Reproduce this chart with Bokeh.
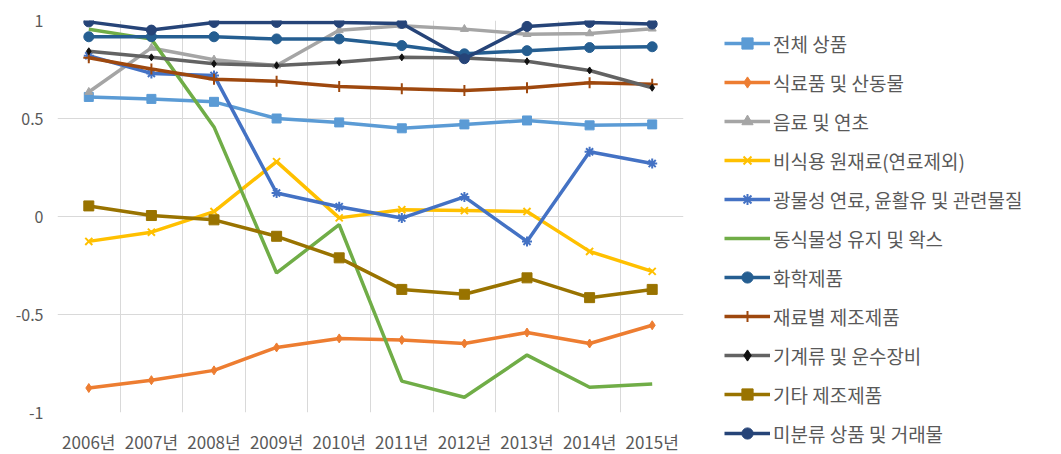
from bokeh.plotting import figure
from bokeh.models import Range1d, FixedTicker, Legend, LegendItem
from bokeh.embed import file_html
from bokeh.resources import INLINE

years = ["2006년", "2007년", "2008년", "2009년", "2010년",
         "2011년", "2012년", "2013년", "2014년", "2015년"]

total = [0.61, 0.60, 0.585, 0.50, 0.48, 0.45, 0.47, 0.49, 0.465, 0.47]
food = [-0.875, -0.835, -0.785, -0.668, -0.622, -0.63, -0.648, -0.592, -0.648, -0.555]
beverage = [0.635, 0.86, 0.80, 0.77, 0.95, 0.973, 0.956, 0.93, 0.934, 0.958]
nonfood = [-0.127, -0.08, 0.025, 0.28, -0.007, 0.035, 0.03, 0.025, -0.178, -0.28]
mineral = [0.82, 0.73, 0.72, 0.12, 0.05, -0.008, 0.10, -0.127, 0.33, 0.27]
oils = [0.955, 0.905, 0.457, -0.288, -0.042, -0.84, -0.922, -0.707, -0.871, -0.854]
chemical = [0.917, 0.917, 0.917, 0.906, 0.906, 0.872, 0.83, 0.846, 0.862, 0.866]
material = [0.81, 0.753, 0.70, 0.69, 0.663, 0.652, 0.643, 0.657, 0.683, 0.675]
machinery = [0.843, 0.812, 0.779, 0.77, 0.787, 0.812, 0.809, 0.792, 0.745, 0.657]
other = [0.054, 0.005, -0.017, -0.101, -0.211, -0.372, -0.397, -0.313, -0.414, -0.372]
unclassified = [0.993, 0.951, 0.99, 0.99, 0.99, 0.985, 0.805, 0.97, 0.99, 0.982]

y_ticks = [-1, -0.5, 0, 0.5, 1]
y_tick_labels = ["-1", "-0.5", "0", "0.5", "1"]

series = [
    ("전체 상품", total, "#5B9BD5", "square", 9, None),
    ("식료품 및 산동물", food, "#ED7D31", "diamond", 9, None),
    ("음료 및 연초", beverage, "#A5A5A5", "triangle", 8, None),
    ("비식용 원재료(연료제외)", nonfood, "#FFC000", "x", 10, None),
    ("광물성 연료, 윤활유 및 관련물질", mineral, "#4472C4", "asterisk", 10, None),
    ("동식물성 유지 및 왁스", oils, "#70AD47", None, 0, None),
    ("화학제품", chemical, "#255E91", "circle", 10, None),
    ("재료별 제조제품", material, "#9E480E", "cross", 11, None),
    ("기계류 및 운수장비", machinery, "#636363", "diamond", 7, "#111111"),
    ("기타 제조제품", other, "#997300", "square", 10, None),
    ("미분류 상품 및 거래물", unclassified, "#264478", "circle", 10, None),
]

FONT = "Noto Sans CJK KR"
TXT = "#595959"

xs = [i + 0.5 for i in range(len(years))]

p = figure(frame_width=626, frame_height=392,
           min_border_left=57, min_border_top=20, min_border_right=365,
           min_border_bottom=30,
           x_range=Range1d(0, len(years)), y_range=Range1d(-1, 1),
           output_backend="svg", toolbar_location=None)
p.outline_line_color = None
p.background_fill_color = "white"

# axes
p.xaxis.ticker = FixedTicker(ticks=xs)
p.xaxis.major_label_overrides = {x: lab for x, lab in zip(xs, years)}
p.yaxis.ticker = FixedTicker(ticks=y_ticks)
p.yaxis.major_label_overrides = {t: lab for t, lab in zip(y_ticks, y_tick_labels)}
for ax in (p.xaxis[0], p.yaxis[0]):
    ax.axis_line_color = None
    ax.major_tick_line_color = None
    ax.minor_tick_line_color = None
    ax.major_label_text_font = FONT
    ax.major_label_text_color = TXT
p.xaxis.major_label_text_font_size = "17px"
p.yaxis.major_label_text_font_size = "16px"
p.xaxis.major_label_standoff = 10
p.yaxis.major_label_standoff = 8

p.xgrid.ticker = FixedTicker(ticks=list(range(len(years) + 1)))
p.ygrid.ticker = FixedTicker(ticks=y_ticks)
for g in (p.xgrid[0], p.ygrid[0]):
    g.grid_line_color = "#D9D9D9"
    g.grid_line_width = 1

items = []
for name, vals, color, marker, size, mcolor in series:
    rs = [p.line(xs, vals, line_color=color, line_width=3.5)]
    if marker:
        mc = mcolor or color
        rs.append(p.scatter(xs, vals, marker=marker, size=size,
                            fill_color=mc, line_color=mc,
                            line_width=2 if marker in ("x", "asterisk", "cross") else 1))
    items.append(LegendItem(label=name, renderers=rs))

legend = Legend(items=items, location=(41, -35))
legend.padding = 0
legend.margin = 0
legend.spacing = 11
legend.glyph_height = 28
legend.label_height = 28
legend.glyph_width = 46
legend.label_standoff = 3
legend.label_text_font = FONT
legend.label_text_font_size = "19px"
legend.label_text_color = TXT
legend.border_line_color = None
legend.background_fill_alpha = 0
p.add_layout(legend, "right")

open("out.html", "w").write(file_html(p, INLINE))
